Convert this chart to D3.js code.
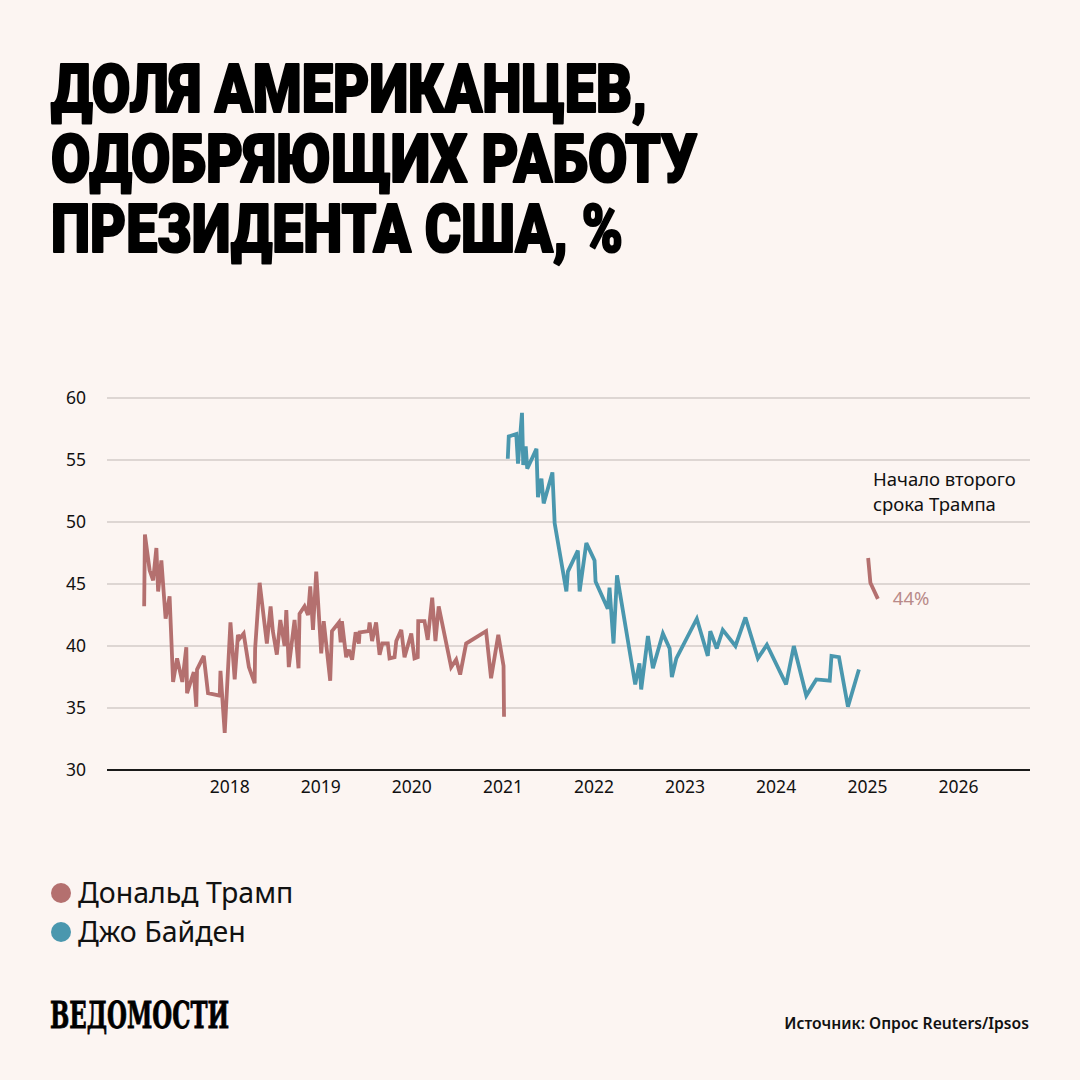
<!DOCTYPE html>
<html>
<head>
<meta charset="utf-8">
<script src="https://cdn.jsdelivr.net/npm/d3@7"></script>
<style>
  html, body { margin: 0; padding: 0; background: #fcf5f2; }
  svg { display: block; }
</style>
</head>
<body>
<svg id="chart" width="1080" height="1080"></svg>
<script>
// Data
const trumpDates = [
  "2017-01-25", "2017-01-28", "2017-02-16", "2017-03-02", "2017-03-15", "2017-03-22",
  "2017-04-04", "2017-04-21", "2017-05-07", "2017-05-21", "2017-06-06", "2017-06-27",
  "2017-07-13", "2017-07-16", "2017-08-12", "2017-08-22", "2017-08-25", "2017-09-21",
  "2017-10-08", "2017-11-24", "2017-11-27", "2017-12-14", "2018-01-06", "2018-01-23",
  "2018-02-05", "2018-02-12", "2018-02-28", "2018-03-21", "2018-04-13", "2018-04-15",
  "2018-05-03", "2018-06-01", "2018-06-16", "2018-06-25", "2018-07-11", "2018-07-25",
  "2018-08-11", "2018-08-18", "2018-08-28", "2018-09-20", "2018-10-06", "2018-10-10",
  "2018-10-30", "2018-11-13", "2018-11-22", "2018-12-03", "2018-12-16", "2019-01-05",
  "2019-01-15", "2019-02-10", "2019-02-17", "2019-03-17", "2019-03-24", "2019-03-29",
  "2019-04-15", "2019-04-26", "2019-05-09", "2019-05-23", "2019-06-05", "2019-06-08",
  "2019-07-14", "2019-07-18", "2019-07-28", "2019-08-13", "2019-08-27", "2019-09-07",
  "2019-09-29", "2019-10-06", "2019-10-26", "2019-11-02", "2019-11-22", "2019-12-05",
  "2020-01-01", "2020-01-14", "2020-01-27", "2020-01-29", "2020-02-23", "2020-03-07",
  "2020-03-25", "2020-04-07", "2020-04-20", "2020-06-09", "2020-06-29", "2020-07-15",
  "2020-08-08", "2020-10-27", "2020-11-16", "2020-12-15", "2021-01-05", "2021-01-07"
];
const trumpValues = [
  43.2, 49.0, 46.1, 45.3, 47.9, 44.4,
  46.9, 42.2, 44.0, 37.1, 39.0, 37.1,
  39.9, 36.2, 37.9, 35.1, 38.1, 39.2,
  36.2, 36.0, 38.0, 33.0, 41.9, 37.3,
  40.9, 40.6, 41.0, 38.3, 37.0, 39.8,
  45.1, 40.2, 43.2, 41.2, 39.3, 42.1,
  40.0, 42.9, 38.3, 42.1, 38.2, 42.6,
  43.2, 42.5, 44.8, 41.3, 46.0, 39.4,
  42.0, 37.2, 41.2, 41.9, 40.3, 42.0,
  39.1, 39.7, 38.9, 41.1, 40.2, 41.1,
  41.2, 41.9, 40.4, 41.9, 39.3, 40.2,
  40.2, 39.0, 39.1, 40.4, 41.3, 39.1,
  41.0, 39.0, 39.1, 42.0, 42.0, 40.5,
  43.9, 40.4, 43.2, 38.3, 38.9, 37.7,
  40.2, 41.2, 37.4, 40.9, 38.4, 34.3
];

const bidenDates = [
  "2021-01-22", "2021-01-26", "2021-02-25", "2021-03-04", "2021-03-20", "2021-03-25",
  "2021-04-04", "2021-04-10", "2021-05-17", "2021-05-23", "2021-06-06", "2021-06-15",
  "2021-07-20", "2021-07-29", "2021-09-14", "2021-09-20", "2021-10-30", "2021-11-06",
  "2021-12-03", "2022-01-05", "2022-01-09", "2022-02-27", "2022-03-06", "2022-03-22",
  "2022-04-05", "2022-06-17", "2022-07-04", "2022-07-11", "2022-08-07", "2022-08-27",
  "2022-10-06", "2022-11-02", "2022-11-11", "2022-11-29", "2023-02-19", "2023-04-04",
  "2023-04-14", "2023-05-10", "2023-06-03", "2023-07-24", "2023-09-02", "2023-10-22",
  "2023-11-27", "2024-02-12", "2024-03-14", "2024-05-03", "2024-06-12", "2024-08-05",
  "2024-08-12", "2024-09-11", "2024-10-17", "2024-11-30"
];
const bidenValues = [
  55.1, 56.9, 57.1, 54.7, 58.8, 54.6,
  56.1, 54.3, 55.9, 52.0, 53.5, 51.5,
  54.0, 49.9, 44.4, 46.0, 47.7, 44.4,
  48.3, 46.9, 45.2, 43.0, 44.7, 40.2,
  45.7, 36.9, 38.6, 36.5, 40.8, 38.2,
  41.0, 39.8, 37.5, 39.0, 42.2, 39.2,
  41.2, 39.8, 41.3, 40.0, 42.3, 39.0,
  40.1, 36.9, 40.0, 36.0, 37.3, 37.2,
  39.2, 39.1, 35.1, 38.1
];

const trump2Dates = ["2025-01-06", "2025-01-15", "2025-02-14"];
const trump2Values = [47.1, 45.1, 43.8];

const yTicks = [30, 35, 40, 45, 50, 55, 60];
const xTickYears = [2018, 2019, 2020, 2021, 2022, 2023, 2024, 2025, 2026];

const titleLines = ["ДОЛЯ АМЕРИКАНЦЕВ,", "ОДОБРЯЮЩИХ РАБОТУ", "ПРЕЗИДЕНТА США, %"];
const legendNames = ["Дональд Трамп", "Джо Байден"];

// Colors
const trumpColor = "#b4706f";
const bidenColor = "#4a97ae";
const font = "'Noto Sans', 'Open Sans', sans-serif";

const parse = d3.timeParse("%Y-%m-%d");
const zipSeries = (dates, values) => dates.map((d, i) => ({ date: parse(d), v: values[i] }));
const trump = zipSeries(trumpDates, trumpValues);
const biden = zipSeries(bidenDates, bidenValues);
const trump2 = zipSeries(trump2Dates, trump2Values);

const svg = d3.select("#chart");
svg.append("rect").attr("width", 1080).attr("height", 1080).attr("fill", "#fcf5f2");

// Title
const titleWidths = [596, 646, 572];
svg.append("g")
  .selectAll("text")
  .data(titleLines)
  .join("text")
  .attr("x", 51)
  .attr("y", (d, i) => 112 + i * 70)
  .attr("textLength", (d, i) => titleWidths[i])
  .attr("lengthAdjust", "spacingAndGlyphs")
  .attr("font-family", "Roboto, Inter, 'Noto Sans', sans-serif")
  .attr("font-weight", 900)
  .attr("font-size", 66)
  .attr("fill", "#000")
  .attr("stroke", "#000")
  .attr("stroke-width", 2.2)
  .attr("stroke-linejoin", "round")
  .text(d => d);

// Scales
const x = d3.scaleTime()
  .domain([new Date(2016, 7, 29), new Date(2026, 9, 17)])
  .range([107, 1030]);
const y = d3.scaleLinear().domain([30, 60]).range([770, 398]);

// Grid
svg.append("g")
  .selectAll("line")
  .data(yTicks.filter(t => t > 30))
  .join("line")
  .attr("x1", 107).attr("x2", 1030)
  .attr("y1", d => y(d)).attr("y2", d => y(d))
  .attr("stroke", "#bfb7b4")
  .attr("stroke-width", 1);

// Y labels
svg.append("g")
  .selectAll("text")
  .data(yTicks)
  .join("text")
  .attr("x", 86)
  .attr("y", d => y(d))
  .attr("dy", "0.35em")
  .attr("text-anchor", "end")
  .attr("font-family", font)
  .attr("font-size", 17.5)
  .attr("fill", "#111")
  .text(d => d);

// X axis
const xAxis = d3.axisBottom(x)
  .tickValues(xTickYears.map(yr => new Date(yr, 0, 1)))
  .tickFormat(d3.timeFormat("%Y"))
  .tickSize(0)
  .tickPadding(11);
const gx = svg.append("g").attr("transform", "translate(0,770)").call(xAxis);
gx.select(".domain").attr("stroke", "#1a1a1a").attr("stroke-width", 2).attr("d", "M107,0H1030");
gx.selectAll("text")
  .attr("font-family", font)
  .attr("font-size", 17.5)
  .attr("fill", "#111");

// Lines
const line = d3.line().x(d => x(d.date)).y(d => y(d.v));
const series = [
  { data: trump, color: trumpColor },
  { data: biden, color: bidenColor },
  { data: trump2, color: trumpColor }
];
svg.append("g")
  .selectAll("path")
  .data(series)
  .join("path")
  .attr("d", d => line(d.data))
  .attr("fill", "none")
  .attr("stroke", d => d.color)
  .attr("stroke-width", 3.8)
  .attr("stroke-linejoin", "miter")
  .attr("stroke-miterlimit", 3);

// Annotations
const last = trump2[trump2.length - 1];
svg.append("text")
  .attr("x", x(last.date) + 15)
  .attr("y", y(last.v))
  .attr("dy", "0.35em")
  .attr("font-family", font)
  .attr("font-size", 18.5)
  .attr("fill", "#b98a89")
  .text(Math.round(last.v) + "%");

svg.append("g")
  .selectAll("text")
  .data(["Начало второго", "срока Трампа"])
  .join("text")
  .attr("x", 873)
  .attr("y", (d, i) => 486 + i * 25)
  .attr("font-family", font)
  .attr("font-size", 18.5)
  .attr("fill", "#111")
  .text(d => d);

// Legend
const legend = svg.append("g")
  .selectAll("g")
  .data(legendNames)
  .join("g")
  .attr("transform", (d, i) => `translate(0,${893 + i * 39})`);
legend.append("circle")
  .attr("cx", 61).attr("cy", 0).attr("r", 10)
  .attr("fill", (d, i) => i === 0 ? trumpColor : bidenColor);
legend.append("text")
  .attr("x", 78).attr("y", 0).attr("dy", "0.35em")
  .attr("font-family", font)
  .attr("font-size", 28.5)
  .attr("fill", "#111")
  .text(d => d);

// Footer
svg.append("text")
  .attr("x", 50).attr("y", 1028)
  .attr("textLength", 179)
  .attr("lengthAdjust", "spacingAndGlyphs")
  .attr("font-family", "'DejaVu Serif Condensed', 'DejaVu Serif', serif")
  .attr("font-weight", 700)
  .attr("font-size", 38)
  .attr("fill", "#000")
  .attr("stroke", "#000")
  .attr("stroke-width", 0.8)
  .text("ВЕДОМОСТИ");

svg.append("text")
  .attr("x", 1029).attr("y", 1029)
  .attr("text-anchor", "end")
  .attr("font-family", font)
  .attr("font-weight", 600)
  .attr("font-size", 15.7)
  .attr("fill", "#111")
  .text("Источник: Опрос Reuters/Ipsos");
</script>
</body>
</html>
